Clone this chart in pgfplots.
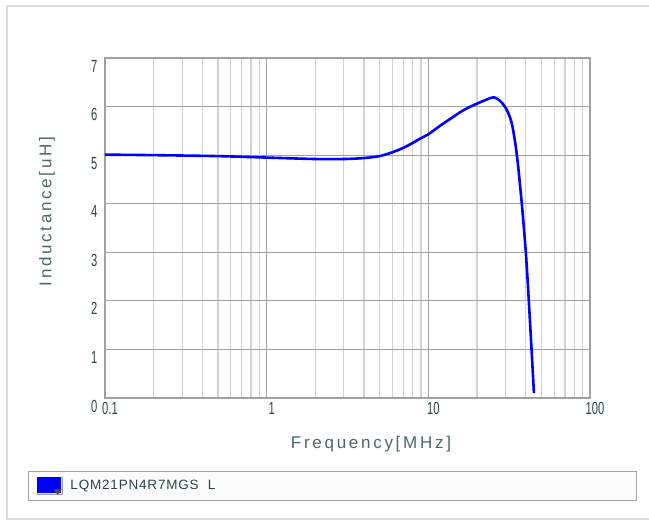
\documentclass[border=0pt]{standalone}
\usepackage{fontspec}
\setmainfont{Liberation Sans}
\newfontfamily\tickfont[FakeStretch=0.64]{Liberation Sans}
\newfontfamily\labfont[LetterSpace=16]{Liberation Sans}
\newfontfamily\legfont[LetterSpace=6]{Liberation Sans}
\usepackage{pgfplots}
\pgfplotsset{compat=1.18}
\definecolor{ticktxt}{HTML}{2A4444}
\definecolor{labtxt}{HTML}{4A6868}
\definecolor{majgrid}{HTML}{A0A0A0}
\definecolor{mingrid}{HTML}{D2D2D2}
\definecolor{framec}{HTML}{D8DDE0}
\begin{document}
\begin{tikzpicture}[x=1pt,y=1pt]
\useasboundingbox (0,0) rectangle (649,522);
\fill[white] (0,0) rectangle (649,522);
\draw[framec,line width=2pt] (649,516) -- (7,516) -- (7,3) -- (649,3);
\begin{axis}[
  at={(105pt,124pt)}, anchor=south west,
  scale only axis, width=485pt, height=340pt,
  xmode=log, xmin=0.1, xmax=100, ymin=0, ymax=7,
  xtick={0.1,1,10,100},
  xticklabel={\tickfont\ifdim\tick pt<-1pt 0.1\else\ifdim\tick pt<1pt 1\else\ifdim\tick pt<3pt 10\else 100\fi\fi\fi},
  ytick={0,1,...,7},
  yticklabel={\tickfont\pgfmathprintnumber[int detect]{\tick}},
  /pgf/number format/assume math mode=true,
  minor xtick={0.2,0.3,0.4,0.5,0.6,0.7,0.8,0.9,2,3,4,5,6,7,8,9,20,30,40,50,60,70,80,90},
  xmajorgrids, xminorgrids, ymajorgrids,
  major grid style={majgrid, line width=1.2pt},
  minor grid style={mingrid, line width=1.2pt},
  axis line style={majgrid, line width=1.5pt},
  tick style={draw=none},
  xticklabel style={font=\fontsize{17.5}{17.5}\tickfont, text=ticktxt, xshift=5pt, yshift=-1pt},
  yticklabel style={font=\fontsize{17.5}{17.5}\tickfont, text=ticktxt, yshift=-8pt, xshift=-4pt},
  legend style={at={(-0.1588,-0.2147)}, anchor=north west, draw=majgrid, fill=white!98!gray,
    line width=0.8pt, inner xsep=8.5pt, inner ysep=5.5pt, font=\fontsize{13.5}{13.5}\legfont, text=ticktxt},
  legend cell align=left,
  legend image code/.code={
    \draw[fill=mingrid!60, draw=majgrid, line width=0.6pt] (0pt,-8.5pt) rectangle (25pt,8.5pt);
    \fill[blue] (1.5pt,-6pt) rectangle (22.5pt,7pt);
    \fill[black!70] (19pt,-5pt) -- (22pt,-5pt) -- (20.5pt,-7pt) -- cycle;
  },
]
\addplot[blue, line width=2.6pt, smooth, tension=0.45] coordinates {
(0.1,5.01) (0.2,5.00) (0.5,4.98) (1,4.95) (2,4.92) (3,4.92) (4,4.94) (5,4.98)
(6,5.06) (7,5.15) (8,5.25) (9,5.35) (10,5.43) (12,5.62) (14,5.77) (16,5.90)
(18,5.99) (20,6.06) (22,6.12) (24,6.17) (25.5,6.19) (27,6.15) (28.5,6.08) (30,5.98)
(31,5.89) (32,5.78) (33,5.62) (34,5.38) (35,5.10) (36,4.75) (37,4.35) (38,3.95)
(39,3.50) (40,3.05) (41,2.50) (42,1.90) (43,1.30) (44,0.70) (45,0.10)
};
\addlegendentry{\hspace{6pt}\makebox[555pt][l]{LQM21PN4R7MGS\ \ L}}
\end{axis}
\node[font=\fontsize{17}{17}\labfont, text=labtxt] at (371,78) {Frequency[MHz]};
\node[font=\fontsize{17}{17}\labfont, text=labtxt, rotate=90] at (47,310.5) {Inductance[uH]};
\end{tikzpicture}
\end{document}
